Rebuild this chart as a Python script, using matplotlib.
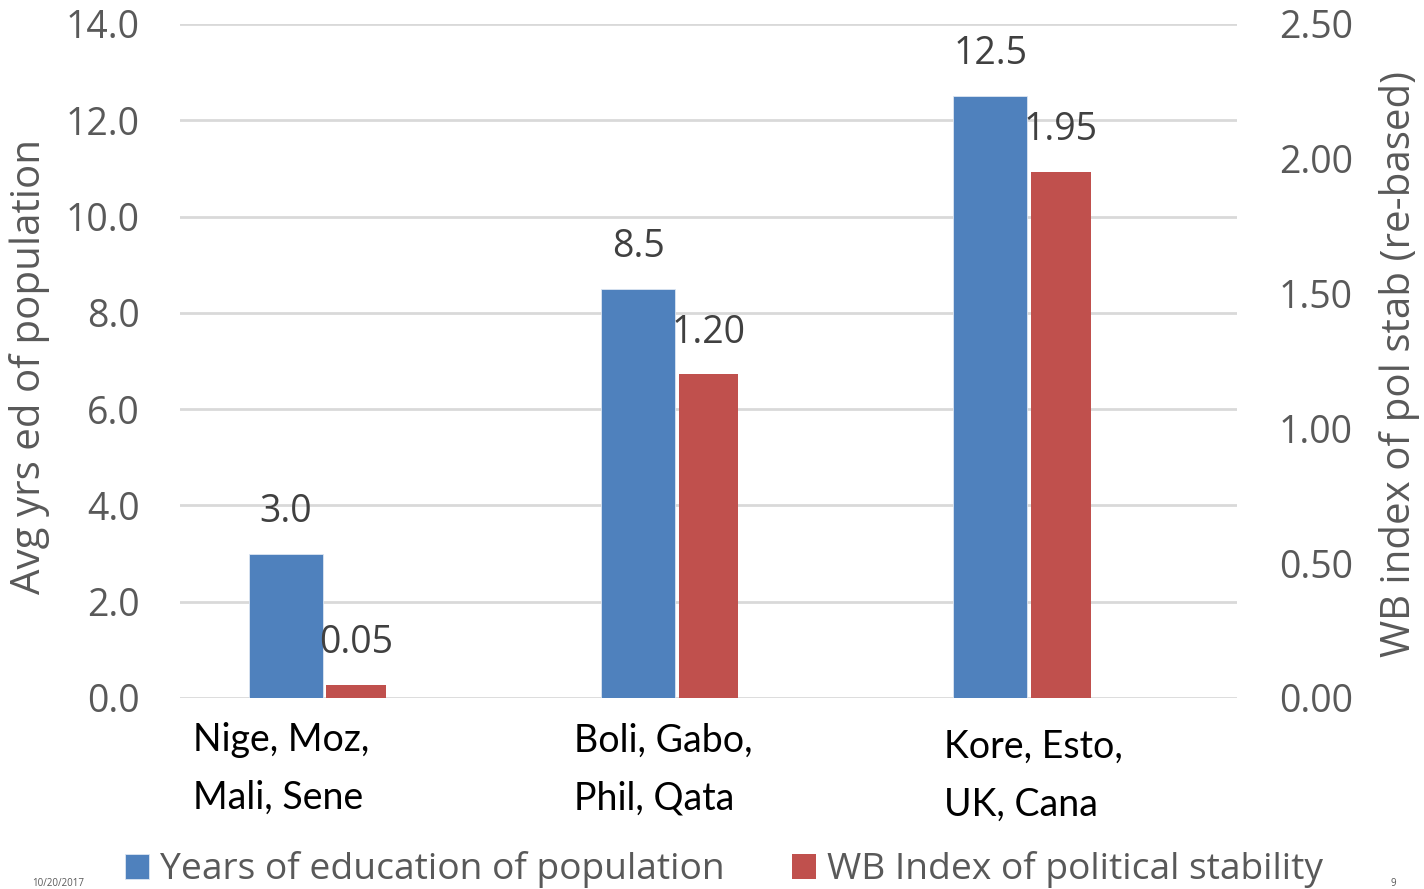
import numpy as np
import matplotlib
matplotlib.use("Agg")
import matplotlib.pyplot as plt
from matplotlib.transforms import blended_transform_factory

# Country groups and their two indicators
categories = ["Nige, Moz,\nMali, Sene", "Boli, Gabo,\nPhil, Qata", "Kore, Esto,\nUK, Cana"]
education_years = [3.0, 8.5, 12.5]
stability_index = [0.05, 1.20, 1.95]
left_ticks = [0.0, 2.0, 4.0, 6.0, 8.0, 10.0, 12.0, 14.0]
right_ticks = [0.0, 0.5, 1.0, 1.5, 2.0, 2.5]
series_names = ["Years of education of population", "WB Index of political stability"]

BLUE = "#4F81BD"
RED = "#C0504D"
GRAY = "#595959"
DARK = "#404040"
GRID = "#D9D9D9"
FONT = "Open Sans"

fig = plt.figure(figsize=(14.24, 8.89), dpi=100)
ax = fig.add_axes([180 / 1424, 1 - 698 / 889, (1237 - 180) / 1424, (698 - 24) / 889])
ax2 = ax.twinx()

x = np.arange(len(categories))
bars_edu = ax.bar(x - 0.20, education_years, width=0.21, color=BLUE,
                  edgecolor="#DCE6F2", linewidth=0.6, zorder=3)
bars_stab = ax2.bar(x + 0.0, stability_index, width=0.17, color=RED, zorder=3)

ax.set_xlim(-0.5, len(categories) - 0.5)
ax.set_ylim(left_ticks[0], left_ticks[-1])
ax2.set_ylim(right_ticks[0], right_ticks[-1])

ax.set_yticks(left_ticks)
ax.set_yticklabels([f"{t:.1f}" for t in left_ticks])
ax2.set_yticks(right_ticks)
ax2.set_yticklabels([f"{t:.2f}" for t in right_ticks])

for a in (ax, ax2):
    for s in a.spines.values():
        s.set_visible(False)
    a.tick_params(axis="y", length=0, labelsize=27, labelcolor=GRAY)
    for lab in a.get_yticklabels():
        lab.set_fontfamily(FONT)
ax.tick_params(axis="y", pad=29)
ax2.tick_params(axis="y", pad=30)

ax.set_axisbelow(True)
ax.yaxis.grid(True, color=GRID, linewidth=2.0, zorder=0)
ax.set_xticks([])

# Value labels above each bar
for rect, v in zip(bars_edu, education_years):
    ax.annotate(f"{v:.1f}", (rect.get_x() + rect.get_width() / 2, v),
                xytext=(0, 23), textcoords="offset points", ha="center",
                va="baseline", fontsize=27, color=DARK, family=FONT, zorder=5)
for rect, v in zip(bars_stab, stability_index):
    ax2.annotate(f"{v:.2f}", (rect.get_x() + rect.get_width() / 2, v),
                 xytext=(0, 23), textcoords="offset points", ha="center",
                 va="baseline", fontsize=27, color=DARK, family=FONT, zorder=5)

# Category labels under each group (left edges relative to group centres)
label_shift = [-0.463, -0.381, -0.332]
label_y = [-0.036, -0.036, -0.046]
tr = blended_transform_factory(ax.transData, ax.transAxes)
for i, (cat, dx, yy) in enumerate(zip(categories, label_shift, label_y)):
    ax.text(i + dx, yy, cat, transform=tr, ha="left", va="top",
            fontsize=27, color="black", family="Lato", linespacing=1.75,
            multialignment="left")

# Axis titles
fig.text(30 / 1424, 1 - 366 / 889, "Avg yrs ed of population", rotation=90,
         ha="center", va="center", fontsize=29, color=GRAY, family=FONT)
fig.text(1400 / 1424, 1 - 364 / 889, "WB index of pol stab (re-based)", rotation=90,
         ha="center", va="center", fontsize=29, color=GRAY, family=FONT)

# Legend along the bottom
leg = fig.legend([bars_edu, bars_stab], series_names, loc="center",
                 bbox_to_anchor=(724 / 1424, 1 - 870 / 889), ncol=2, frameon=False,
                 prop={"family": FONT, "size": 26.7}, handlelength=0.65,
                 handleheight=0.65, handletextpad=0.3, columnspacing=1.8,
                 borderpad=0, borderaxespad=0)
for t in leg.get_texts():
    t.set_color(GRAY)

# Footer
fig.text(32 / 1424, 1 - 883 / 889, "10/20/2017", ha="left", va="center",
         fontsize=7, color=GRAY, family=FONT)
fig.text(1393 / 1424, 1 - 883 / 889, "9", ha="center", va="center",
         fontsize=7, color=GRAY, family=FONT)

fig.savefig("out.png", dpi=100)
